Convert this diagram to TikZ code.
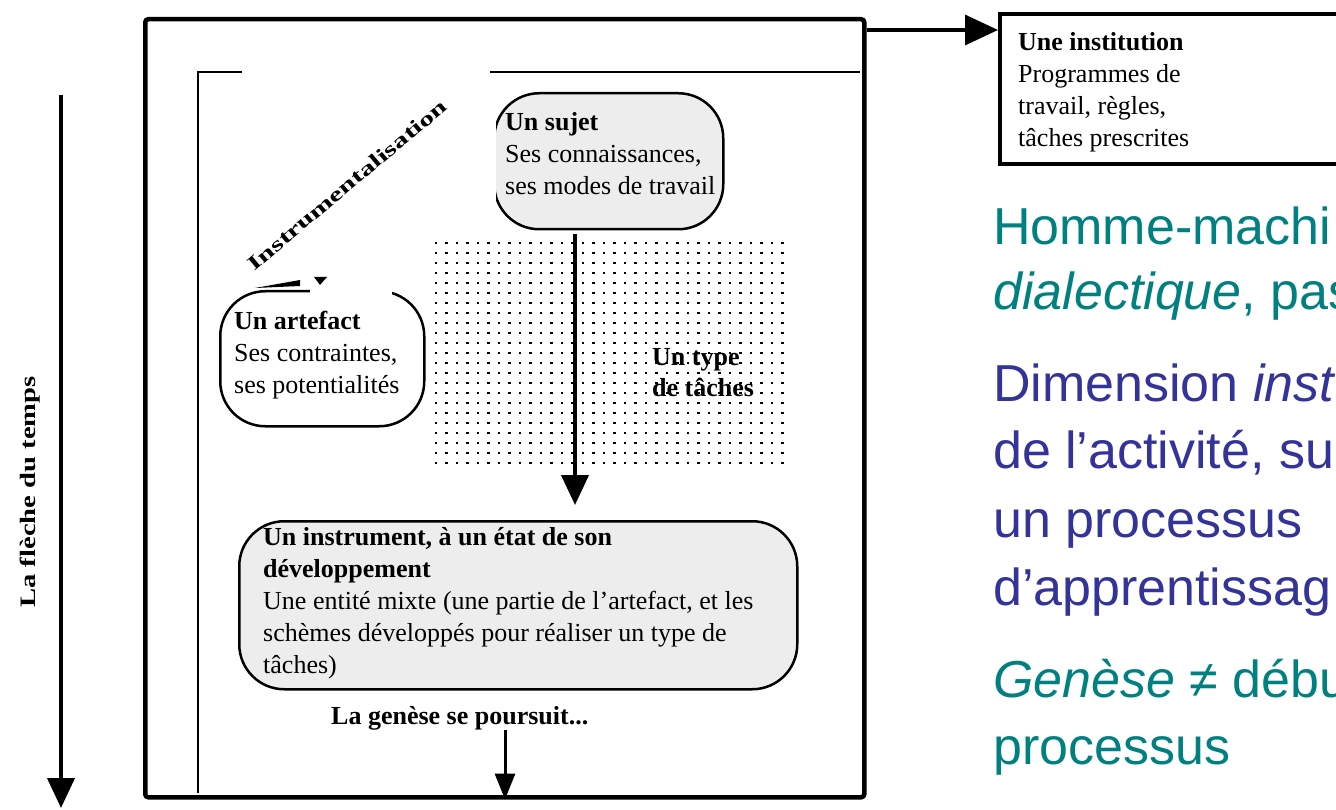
\documentclass[tikz,border=0pt]{standalone}
\usepackage{fontspec}
\setmainfont{Liberation Serif}
\newfontfamily\arialf{Liberation Sans}
\usetikzlibrary{arrows.meta}
\definecolor{tealtxt}{RGB}{0,128,128}
\definecolor{bluetxt}{RGB}{51,51,153}
\definecolor{boxgray}{RGB}{237,237,237}
\begin{document}
\begin{tikzpicture}[x=1pt,y=-1pt,
  rbox/.style={draw, line width=2.5pt, rounded corners=45pt, inner sep=0pt, anchor=north west},
  txt/.style={anchor=north west, inner sep=0pt, align=left, font=\fontsize{26}{32}\selectfont},
  rt/.style={anchor=base west, inner sep=0pt, font=\arialf\fontsize{52}{62}\selectfont},
  bigarrow/.style={line width=4pt, -{Triangle[length=30pt,width=27pt]}}]
\clip (0,0) rectangle (1336,810);
\fill[white] (0,0) rectangle (1336,810);
% time arrow
\coordinate (t0) at (61,95);
\coordinate (t1) at (61,808);
\draw[bigarrow] (t0) -- (t1);
\node[rotate=90, inner sep=0pt, font=\bfseries\fontsize{22}{22}\selectfont] (fleche) at (30,492) {\scalebox{1.3}[1]{La flèche du temps}};
% outer frame
\node[draw, line width=4.5pt, rounded corners=3pt, minimum width=719pt, minimum height=778pt, anchor=north west, inner sep=0pt] (outer) at (143,17) {};
% inner frame
\draw[line width=2pt] (242,72) -- (198,72) -- (198,793);
\draw[line width=2pt] (490,72) -- (860,72);
% institution
\node[draw, line width=4pt, anchor=north west, minimum width=360pt, minimum height=150pt, inner sep=0pt] (inst) at (998,12) {};
\node[txt] (insttxt) at (1018,27.6) {\strut\textbf{Une institution}\\Programmes de\\travail, règles,\\tâches prescrites};
\coordinate (ia) at (0,30);
\draw[line width=3.5pt, -{Triangle[length=33pt,width=30pt]}] (outer.east |- ia) -- (inst.west |- ia);
% dots
\foreach \i in {0,...,33}{
  \foreach \j in {0,...,22}{
    \fill (434.6+10.5*\i, 241.6+10*\j) rectangle +(2.8,2.8);
  }
}
\node[txt, font=\fontsize{26}{31}\selectfont\bfseries] (type) at (652,343.6) {\strut Un type\\de tâches};
% sujet
\node[rbox, fill=boxgray, minimum width=229pt, minimum height=136pt] (sujet) at (493,92) {};
\fill[white] (488,106) rectangle (496,206);
\node[txt] (sujettxt) at (505,107.6) {\strut\textbf{Un sujet}\\Ses connaissances,\\ses modes de travail};
% instrumentalisation
\node[rotate=40, inner sep=0pt, font=\bfseries\fontsize{20}{20}\selectfont] (instrum) at (347,185) {\scalebox{1.5}[1]{Instrumentalisation}};
% artefact
\node[rbox, fill=white, minimum width=204pt, minimum height=135pt] (artefact) at (219,290) {};
\fill[white] (310,284) rectangle (392,296);
\fill (255,288) -- (300,280) -- (300,286) -- cycle;
\fill (314,277) -- (327,277) -- (320,285) -- cycle;
\node[txt] (arttxt) at (234,306.6) {\strut\textbf{Un artefact}\\Ses contraintes,\\ses potentialités};
% instrument
\node[rbox, fill=boxgray, minimum width=558pt, minimum height=168pt] (instr) at (238,520) {};
\node[txt] (instrtxt) at (263,522.6) {\strut\textbf{Un instrument, à un état de son}\\\textbf{développement}\\Une entité mixte (une partie de l’artefact, et les\\schèmes développés pour réaliser un type de\\tâches)};
\coordinate (ax) at (575,0);
\draw[bigarrow, shorten <=4pt, shorten >=15pt] (sujet.south -| ax) -- (instr.north -| ax);
% genese
\node[anchor=base west, inner sep=0pt, font=\fontsize{26}{32}\selectfont\bfseries] (genese) at (331,724) {La genèse se poursuit...};
\coordinate (bx) at (505,0);
\draw[line width=3pt, -{Triangle[length=26pt,width=20pt]}] (genese.south -| bx) -- (outer.south -| bx);
% right text
\node[rt, tealtxt] (r1) at (993,245) {Homme-machi};
\node[rt, tealtxt] (r2) at (993,310) {\textit{dialectique}, pas};
\node[rt, bluetxt] (r3) at (993,401) {Dimension \textit{inst}};
\node[rt, bluetxt] (r4) at (993,468) {de l’activité, su};
\node[rt, bluetxt] (r5) at (993,537) {un processus};
\node[rt, bluetxt] (r6) at (993,605) {d’apprentissag};
\node[rt, tealtxt] (r7) at (993,697) {\textit{Genèse} ≠ débu};
\node[rt, tealtxt] (r8) at (993,764) {processus};
\end{tikzpicture}
\end{document}
